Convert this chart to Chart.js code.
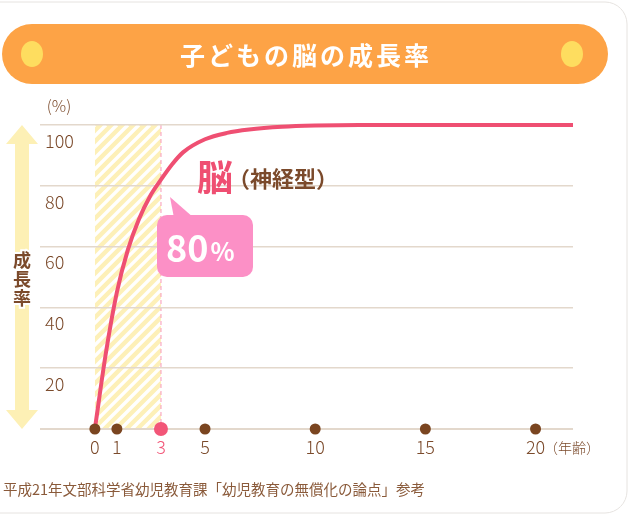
<!DOCTYPE html>
<html lang="ja">
<head>
<meta charset="UTF-8">
<title>子どもの脳の成長率</title>
<script src="https://cdn.jsdelivr.net/npm/chart.js"></script>
<style>
  body, html { margin: 0; padding: 0; background: #fff; }
  #wrap { width: 630px; height: 518px; position: relative; }
</style>
</head>
<body>
<div id="wrap"><canvas id="brainChart"></canvas></div>
<script>
// データ（年齢 → 成長率 %）
const ages   = [0, 0.5, 1, 1.5, 2, 2.5, 3, 3.5, 4, 5, 6, 7, 8.5, 10, 12, 15, 21.7];
const growth = [0, 25, 45, 59, 69, 76.5, 82, 87, 91, 95.3, 97.4, 98.5, 99.4, 99.8, 100, 100, 100];
const ageTicks  = [0, 1, 3, 5, 10, 15, 20];
const rateTicks = [0, 20, 40, 60, 80, 100];
const highlightAge = 3;
const highlightLabel = '80';

const BROWN = '#7b4a2b';
const PINK  = '#ef4f72';
const JP = '"Noto Sans CJK JP", "Noto Sans", sans-serif';

const decor = {
  id: 'decor',
  beforeDraw(chart) {
    const ctx = chart.ctx;
    const { x, y } = chart.scales;
    ctx.save();

    // 外枠
    ctx.strokeStyle = '#e6e3e0';
    ctx.lineWidth = 1;
    ctx.beginPath();
    ctx.roundRect(-30, 2, 657, 511, 22);
    ctx.stroke();

    // タイトル帯
    ctx.fillStyle = '#fda346';
    ctx.beginPath();
    ctx.roundRect(2, 24, 606, 60, 30);
    ctx.fill();
    ctx.fillStyle = '#fedd5f';
    [32, 572].forEach(cx => {
      ctx.beginPath();
      ctx.ellipse(cx, 54, 11, 13, 0, 0, Math.PI * 2);
      ctx.fill();
    });
    ctx.fillStyle = '#fff';
    ctx.font = 'bold 25px ' + JP;
    ctx.textAlign = 'center';
    ctx.textBaseline = 'middle';
    ctx.letterSpacing = '3px';
    ctx.fillText('子どもの脳の成長率', 306, 55);
    ctx.letterSpacing = '0px';

    // 左の矢印
    const top = y.getPixelForValue(100), bot = y.getPixelForValue(0);
    ctx.fillStyle = '#fdf0b5';
    ctx.beginPath();
    ctx.moveTo(22, top);
    ctx.lineTo(38, top + 19);
    ctx.lineTo(29, top + 19);
    ctx.lineTo(29, bot - 19);
    ctx.lineTo(38, bot - 19);
    ctx.lineTo(22, bot);
    ctx.lineTo(6, bot - 19);
    ctx.lineTo(15, bot - 19);
    ctx.lineTo(15, top + 19);
    ctx.lineTo(6, top + 19);
    ctx.closePath();
    ctx.fill();
    ctx.font = 'bold 18px ' + JP;
    ctx.lineWidth = 4;
    ctx.strokeStyle = '#fff';
    ctx.fillStyle = BROWN;
    ['成', '長', '率'].forEach((ch, i) => {
      ctx.strokeText(ch, 22, 260 + i * 19);
      ctx.fillText(ch, 22, 260 + i * 19);
    });

    // 0〜3歳の斜線帯
    const x0 = x.getPixelForValue(0), x3 = x.getPixelForValue(highlightAge);
    const h = bot - top;
    ctx.beginPath();
    ctx.rect(x0, top, x3 - x0, h);
    ctx.clip();
    ctx.fillStyle = '#fdf0b8';
    ctx.fillRect(x0, top, x3 - x0, h);
    ctx.strokeStyle = '#fff';
    ctx.lineWidth = 3.5;
    for (let s = x0 - h; s < x3 + 10; s += 11) {
      ctx.beginPath();
      ctx.moveTo(s, bot);
      ctx.lineTo(s + h, top);
      ctx.stroke();
    }
    ctx.restore();

    // 3歳の破線
    ctx.save();
    ctx.strokeStyle = '#f9a9c2';
    ctx.lineWidth = 1.2;
    ctx.setLineDash([4, 3]);
    ctx.beginPath();
    ctx.moveTo(x3, top);
    ctx.lineTo(x3, bot);
    ctx.stroke();
    ctx.restore();
  },
  afterDraw(chart) {
    const ctx = chart.ctx;
    ctx.save();
    ctx.textBaseline = 'middle';

    // (%)
    ctx.fillStyle = BROWN;
    ctx.font = '300 16px ' + JP;
    ctx.textAlign = 'center';
    ctx.fillText('(%)', 59, 106);

    // (年齢)
    ctx.font = '300 14px ' + JP;
    ctx.textAlign = 'left';
    ctx.fillText('（年齢）', 544, 448);

    // 吹き出し
    ctx.fillStyle = '#fc90c6';
    ctx.beginPath();
    ctx.roundRect(157, 215, 96, 62, 10);
    ctx.fill();
    ctx.beginPath();
    ctx.moveTo(174, 218);
    ctx.lineTo(170, 197);
    ctx.lineTo(194, 218);
    ctx.closePath();
    ctx.fill();
    ctx.fillStyle = '#fff';
    ctx.font = '600 36px ' + JP;
    ctx.textAlign = 'left';
    ctx.fillText(highlightLabel, 166, 248);
    const w80 = ctx.measureText(highlightLabel).width;
    ctx.font = '600 25px ' + JP;
    ctx.fillText('%', 166 + w80 + 2, 251);

    // 脳（神経型）
    ctx.fillStyle = PINK;
    ctx.font = 'bold 36px ' + JP;
    ctx.fillText('脳', 197, 177);
    ctx.fillStyle = BROWN;
    ctx.font = 'bold 22px ' + JP;
    ctx.fillText('（神経型）', 228, 179);

    // 出典
    ctx.fillStyle = '#8a5a3a';
    ctx.font = '14.5px ' + JP;
    ctx.fillText('平成21年文部科学省幼児教育課「幼児教育の無償化の論点」参考', 3, 489);
    ctx.restore();
  }
};

new Chart(document.getElementById('brainChart'), {
  type: 'line',
  data: {
    datasets: [
      {
        data: ageTicks.map(a => ({ x: a, y: 0 })),
        showLine: false,
        pointRadius: c => ageTicks[c.dataIndex] === highlightAge ? 7 : 5.5,
        pointBackgroundColor: c => ageTicks[c.dataIndex] === highlightAge ? '#f25678' : '#7a4520',
        pointBorderWidth: 0,
        clip: false,
        order: 0
      },
      {
        data: ages.map((a, i) => ({ x: a, y: growth[i] })),
        borderColor: PINK,
        borderWidth: 4,
        pointRadius: 0,
        cubicInterpolationMode: 'monotone',
        fill: false,
        clip: false,
        order: 1
      }
    ]
  },
  options: {
    responsive: true,
    maintainAspectRatio: false,
    animation: false,
    layout: { padding: { left: 0, right: 57, top: 125, bottom: 0 } },
    plugins: { legend: { display: false }, tooltip: { enabled: false } },
    scales: {
      x: {
        type: 'linear',
        min: -2.49,
        max: 21.7,
        grid: { display: false, drawTicks: false },
        border: { display: false },
        afterBuildTicks: s => { s.ticks = ageTicks.map(v => ({ value: v })); },
        afterFit: s => { s.height = 89; },
        ticks: {
          autoSkip: false,
          maxRotation: 0,
          padding: 7,
          color: c => c.tick && c.tick.value === highlightAge ? '#f25678' : BROWN,
          font: { family: JP, size: 18, weight: 300 }
        }
      },
      y: {
        min: 0,
        max: 100,
        grid: {
          color: '#e3d8cc',
          lineWidth: c => c.tick && c.tick.value === 0 ? 2 : 1.5,
          drawTicks: false
        },
        border: { display: false },
        afterBuildTicks: s => { s.ticks = rateTicks.map(v => ({ value: v })); },
        afterFit: s => { s.width = 40; },
        ticks: {
          mirror: true,
          padding: 5,
          labelOffset: 16,
          color: BROWN,
          font: { family: JP, size: 18, weight: 300 },
          callback: v => v === 0 ? '' : v
        }
      }
    }
  },
  plugins: [decor]
});
</script>
</body>
</html>
